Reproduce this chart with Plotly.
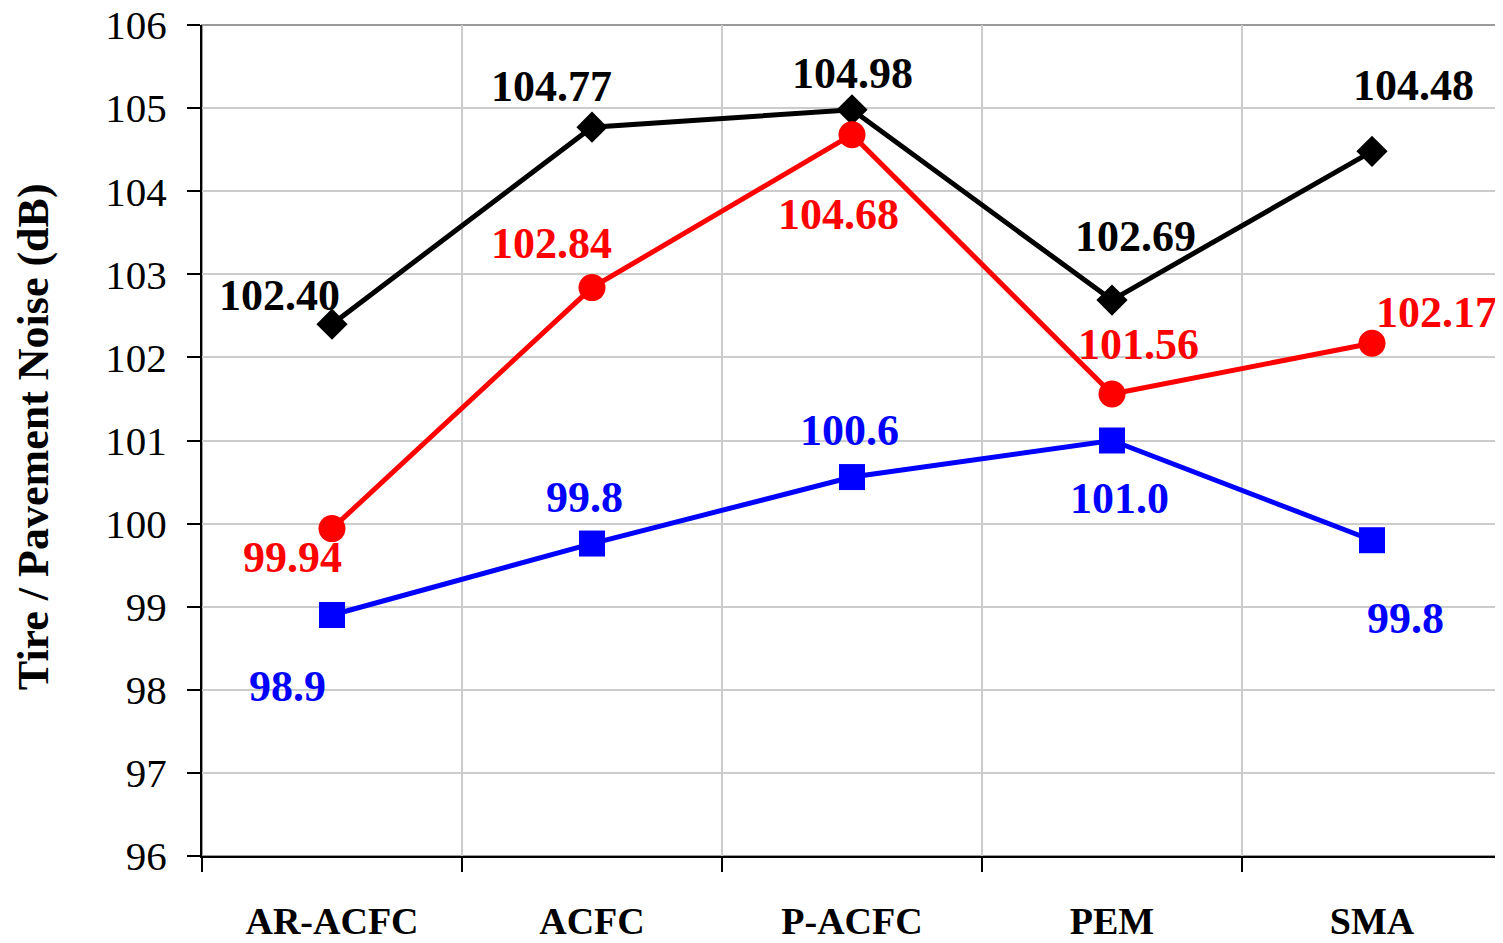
import plotly.graph_objects as go

categories = ["AR-ACFC", "ACFC", "P-ACFC", "PEM", "SMA"]
black_values = [102.40, 104.77, 104.98, 102.69, 104.48]
red_values = [99.94, 102.84, 104.68, 101.56, 102.17]
blue_values = [98.9, 99.76, 100.56, 101.0, 99.8]
y_ticks = [96, 97, 98, 99, 100, 101, 102, 103, 104, 105, 106]

# label offsets in pixels (style)
black_off = [(-53, 29), (-41, 41), (0, 36), (23, 64), (41, 66)]
red_off = [(-40, -29), (-41, 44), (-14, -80), (26, 49), (64, 31)]
blue_off = [(-45, -71), (-8, 46), (-3, 47), (7, -58), (33, -78)]

FONT = "Liberation Serif, Times New Roman, serif"

fig = go.Figure()

series = [
    (black_values, "black", "diamond", 24, black_off, ".2f"),
    (red_values, "#FF0000", "circle", 27, red_off, ".2f"),
    (blue_values, "#0000FF", "square", 26, blue_off, ".1f"),
]

for vals, col, sym, sz, offs, fmt in series:
    fig.add_trace(go.Scatter(
        x=categories, y=vals, mode="lines+markers",
        line=dict(color=col, width=5),
        marker=dict(symbol=sym, size=sz, color=col, line=dict(width=0)),
        showlegend=False,
    ))
    for c, v, (dx, dy) in zip(categories, vals, offs):
        fig.add_annotation(
            x=c, y=v, text=format(v, fmt), showarrow=False,
            xshift=dx, yshift=dy,
            font=dict(family=FONT, size=44, color=col, weight="bold"),
        )

fig.add_annotation(
    xref="paper", yref="paper", x=-0.130, y=0.504,
    text="<b>Tire / Pavement Noise (dB)</b>", textangle=-90, showarrow=False,
    font=dict(family=FONT, size=44, color="black"),
    xanchor="center", yanchor="middle",
)

# frame top/right grey
fig.add_shape(type="rect", xref="paper", yref="paper", x0=0, y0=0, x1=1, y1=1,
              line=dict(color="#9a9a9a", width=2), layer="below")

fig.update_layout(
    width=1495, height=935,
    margin=dict(l=194, r=1, t=17, b=87, autoexpand=False),
    paper_bgcolor="white", plot_bgcolor="white",
    font=dict(family=FONT, color="black"),
    xaxis=dict(
        type="category", range=[-0.5, 4.5], tickson="boundaries",
        ticks="outside", ticklen=14, tickwidth=1.5, tickcolor="black",
        showgrid=True, gridcolor="#cccccc", gridwidth=1.5,
        showline=True, linecolor="black", linewidth=2,
        tickfont=dict(family=FONT, size=38, color="black", weight="bold"),
        ticklabelstandoff=30, automargin=False,
    ),
    yaxis=dict(
        range=[96, 106], tickvals=y_ticks,
        ticks="outside", ticklen=13, tickwidth=1.5, tickcolor="black",
        showgrid=True, gridcolor="#cccccc", gridwidth=1.5,
        showline=True, linecolor="black", linewidth=2,
        tickfont=dict(family=FONT, size=41, color="black"),
        ticklabelstandoff=12, zeroline=False,
        ticklabeloverflow="allow", automargin=False,
    ),
)

fig.write_html("out.html")
